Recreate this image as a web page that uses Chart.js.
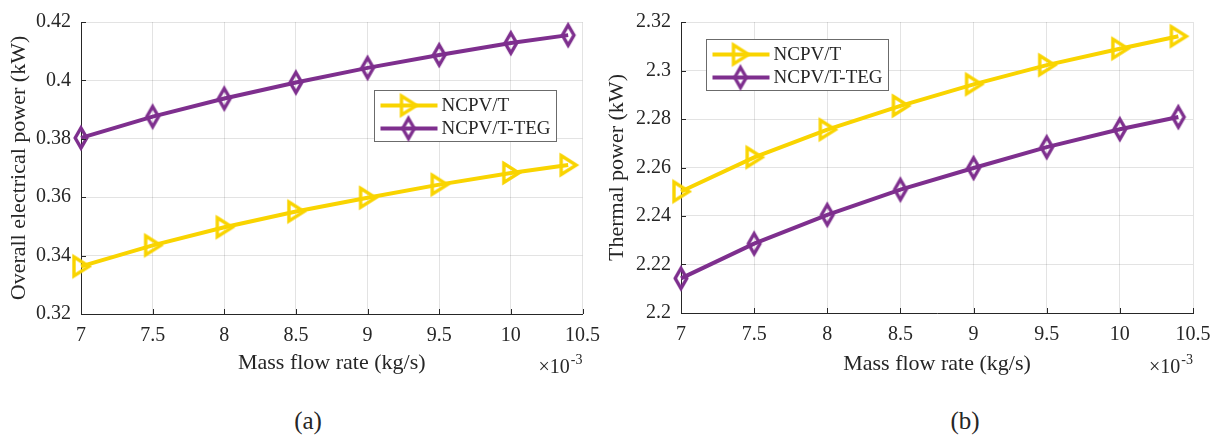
<!DOCTYPE html>
<html>
<head>
<meta charset="utf-8">
<title>Mass flow rate</title>
<script src="https://cdn.jsdelivr.net/npm/chart.js@4.4.0/dist/chart.umd.min.js"></script>
<style>
html, body { margin: 0; padding: 0; background: #fff; }
#wrap { position: relative; width: 1222px; height: 439px; overflow: hidden; }
.box { position: absolute; top: 0; }
.cap { position: absolute; top: 406px; line-height: 30px; font-family: 'Liberation Serif', 'Times New Roman', serif; font-size: 25px; color: #262626; transform: translateX(-50%); }
</style>
</head>
<body>
<div id="wrap">
	<div class="box" style="left:0"><canvas id="chartA" width="610" height="390"></canvas></div>
	<div class="box" style="left:600px"><canvas id="chartB" width="622" height="390"></canvas></div>
	<div class="cap" style="left:308px">(a)</div>
	<div class="cap" style="left:965px">(b)</div>
</div>
<script>
// data
var massFlow = [7, 7.5, 8, 8.5, 9, 9.5, 10, 10.4];
var elecNcpvt = [0.3363, 0.3435, 0.3497, 0.3551, 0.3598, 0.3643, 0.3683, 0.3710];
var elecTeg = [0.3803, 0.3876, 0.3938, 0.3993, 0.4043, 0.4087, 0.4128, 0.4155];
var thermNcpvt = [2.2501, 2.2642, 2.2756, 2.2854, 2.2943, 2.3022, 2.3090, 2.3141];
var thermTeg = [2.2143, 2.2286, 2.2405, 2.2509, 2.2598, 2.2684, 2.2758, 2.2808];
var seriesNames = ['NCPV/T', 'NCPV/T-TEG'];
var xTicks = [7, 7.5, 8, 8.5, 9, 9.5, 10, 10.5];
var elecTicks = [0.32, 0.34, 0.36, 0.38, 0.4, 0.42];
var thermTicks = [2.2, 2.22, 2.24, 2.26, 2.28, 2.3, 2.32];

var serif = "'Liberation Serif', 'Times New Roman', serif";
var ink = '#262626';
var yellow = '#f9d400';
var purple = '#7e2f8e';

Chart.defaults.font.family = serif;
Chart.defaults.font.size = 20;
Chart.defaults.color = ink;

// open markers like matlab '>' and 'd'
function makeMarker(kind, color) {
	var c = document.createElement('canvas');
	c.width = 28;
	c.height = 32;
	var g = c.getContext('2d');
	g.strokeStyle = color;
	g.lineWidth = 3.4;
	g.beginPath();
	if (kind === 'tri') {
		g.moveTo(7, 6.5);
		g.lineTo(22, 16);
		g.lineTo(7, 25.5);
	} else {
		g.moveTo(14, 6);
		g.lineTo(19.8, 16);
		g.lineTo(14, 26);
		g.lineTo(8.2, 16);
	}
	g.closePath();
	g.stroke();
	return c;
}
var triMark = makeMarker('tri', yellow);
var diaMark = makeMarker('dia', purple);

function points(ys) {
	return massFlow.map(function(x, i) { return { x: x, y: ys[i] }; });
}

// inward ticks, exponent label and legend box
var decorPlugin = {
	id: 'decor',
	afterDraw: function(chart, args, opts) {
		var ctx = chart.ctx;
		var area = chart.chartArea;
		var xs = chart.scales.x;
		var ys = chart.scales.y;
		ctx.save();

		ctx.strokeStyle = ink;
		ctx.lineWidth = 1;
		ctx.beginPath();
		xs.ticks.forEach(function(t) {
			var px = Math.round(xs.getPixelForValue(t.value)) + 0.5;
			ctx.moveTo(px, area.bottom);
			ctx.lineTo(px, area.bottom - 5);
		});
		ys.ticks.forEach(function(t) {
			var py = Math.round(ys.getPixelForValue(t.value)) + 0.5;
			ctx.moveTo(area.left, py);
			ctx.lineTo(area.left + 5, py);
		});
		ctx.stroke();

		// x10^-3
		var base = area.bottom + opts.expDy;
		ctx.fillStyle = ink;
		ctx.textAlign = 'right';
		ctx.textBaseline = 'alphabetic';
		ctx.font = '14px ' + serif;
		ctx.fillText('-3', area.right, base - 9);
		var w = ctx.measureText('-3').width;
		ctx.font = '20px ' + serif;
		ctx.fillText('\u00d710', area.right - w - 1, base);

		// legend
		var bx = Math.round(area.left + opts.dx) + 0.5;
		var by = Math.round(area.top + opts.dy) + 0.5;
		ctx.fillStyle = '#fff';
		ctx.fillRect(bx, by, opts.w, opts.h);
		ctx.strokeStyle = '#6b6b6b';
		ctx.lineWidth = 1;
		ctx.strokeRect(bx, by, opts.w, opts.h);
		chart.data.datasets.forEach(function(ds, i) {
			var ry = by + 15 + i * 23;
			ctx.strokeStyle = ds.borderColor;
			ctx.lineWidth = 4;
			ctx.beginPath();
			ctx.moveTo(bx + 6, ry);
			ctx.lineTo(bx + 63, ry);
			ctx.stroke();
			var img = ds.pointStyle;
			ctx.drawImage(img, bx + 34 - img.width / 2, ry - img.height / 2);
			ctx.fillStyle = ink;
			ctx.font = '19px ' + serif;
			ctx.textAlign = 'left';
			ctx.textBaseline = 'middle';
			ctx.fillText(ds.label, bx + 67, ry + 1);
		});
		ctx.restore();
	}
};

function drawGraph(id, valsA, valsB, yTicks, yTitle, lay) {
	var config = {
		type: 'line',
		data: {
			datasets: [{
				label: seriesNames[0],
				data: points(valsA),
				borderColor: yellow,
				borderWidth: 4,
				pointStyle: triMark,
				pointRadius: 10,
				tension: 0,
				fill: false,
				clip: false
			}, {
				label: seriesNames[1],
				data: points(valsB),
				borderColor: purple,
				borderWidth: 4,
				pointStyle: diaMark,
				pointRadius: 10,
				tension: 0,
				fill: false,
				clip: false
			}]
		},
		options: {
			responsive: false,
			animation: false,
			events: [],
			layout: { padding: { top: lay.top, right: lay.right, left: 0, bottom: 0 } },
			plugins: {
				legend: { display: false },
				tooltip: { enabled: false },
				decor: lay.legend
			},
			scales: {
				x: {
					type: 'linear',
					min: xTicks[0],
					max: xTicks[xTicks.length - 1],
					afterBuildTicks: function(s) { s.ticks = xTicks.map(function(v) { return { value: v }; }); },
					afterFit: function(s) { s.height = lay.xh; },
					ticks: { font: { family: serif, size: 20 }, color: ink, padding: 10, autoSkip: false, maxRotation: 0, callback: function(v) { return String(v); } },
					grid: { color: 'rgba(38,38,38,0.13)', drawTicks: false },
					border: { color: ink, width: 1 },
					title: { display: true, text: 'Mass flow rate (kg/s)', font: { family: serif, size: 22 }, color: ink, padding: { top: 0, bottom: lay.xtp } }
				},
				y: {
					type: 'linear',
					min: yTicks[0],
					max: yTicks[yTicks.length - 1],
					afterBuildTicks: function(s) { s.ticks = yTicks.map(function(v) { return { value: v }; }); },
					afterFit: function(s) { s.width = 81; },
					ticks: { font: { family: serif, size: 20 }, color: ink, padding: 10, autoSkip: false, callback: function(v) { return String(v); } },
					grid: { color: 'rgba(38,38,38,0.13)', drawTicks: false },
					border: { color: ink, width: 1 },
					title: { display: true, text: yTitle, font: { family: serif, size: 22 }, color: ink, padding: { top: lay.ytp, bottom: 0 } }
				}
			}
		},
		plugins: [decorPlugin]
	};
	return new Chart(document.getElementById(id), config);
}

drawGraph('chartA', elecNcpvt, elecTeg, elecTicks, 'Overall electrical power (kW)', {
	top: 17, right: 22, xh: 76, xtp: 14, ytp: 6,
	legend: { dx: 292.5, dy: 68, w: 182, h: 51, expDy: 59 }
});
drawGraph('chartB', thermNcpvt, thermTeg, thermTicks, 'Thermal power (kW)', {
	top: 15, right: 29, xh: 77, xtp: 13, ytp: 4,
	legend: { dx: 24.5, dy: 17, w: 182, h: 51, expDy: 60 }
});
</script>
</body>
</html>
